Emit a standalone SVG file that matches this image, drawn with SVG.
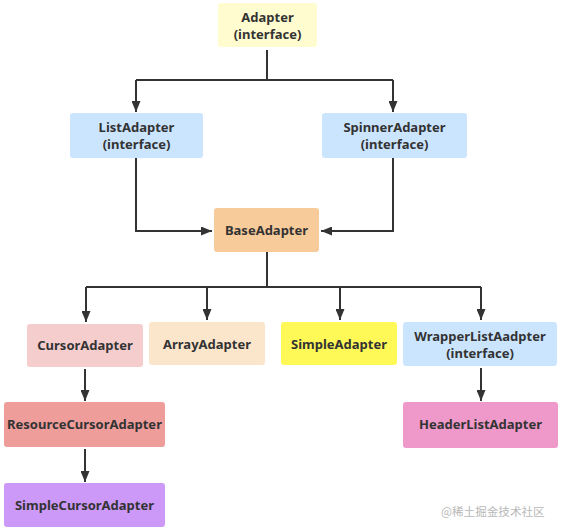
<svg xmlns="http://www.w3.org/2000/svg" width="561" height="532" viewBox="0 0 561 532">
<style>
.n rect{rx:3;ry:3}
.t{font-family:"Noto Sans","Open Sans",sans-serif;font-weight:bold;font-size:13px;fill:#333;text-anchor:middle}
.c{fill:none;stroke:#333;stroke-width:2}
.w{font-family:"Noto Sans CJK SC",sans-serif;font-size:11.6px;fill:#b8b8b8}
</style>
<defs>
<marker id="a" viewBox="0 0 10 10" refX="10" refY="5" markerWidth="5.5" markerHeight="4.5" orient="auto" markerUnits="strokeWidth" preserveAspectRatio="none">
<path d="M0,0 L10,5 L0,10 z" fill="#333"/>
</marker>
</defs>
<rect width="561" height="532" fill="#fff"/>
<g id="connectors">
<path class="c" d="M267,50 V80"/>
<path class="c" d="M136,80 H393"/>
<path class="c" d="M136,80 V112" marker-end="url(#a)"/>
<path class="c" d="M393,80 V112" marker-end="url(#a)"/>
<path class="c" d="M136,158 V231 H212" marker-end="url(#a)"/>
<path class="c" d="M393,158 V231 H321" marker-end="url(#a)"/>
<path class="c" d="M267,252 V287"/>
<path class="c" d="M86,287 H481"/>
<path class="c" d="M86,287 V322" marker-end="url(#a)"/>
<path class="c" d="M207,287 V320" marker-end="url(#a)"/>
<path class="c" d="M340,287 V320" marker-end="url(#a)"/>
<path class="c" d="M481,287 V320" marker-end="url(#a)"/>
<path class="c" d="M85,369 V401" marker-end="url(#a)"/>
<path class="c" d="M85,449 V482" marker-end="url(#a)"/>
<path class="c" d="M481,368 V401" marker-end="url(#a)"/>
</g>
<g id="adapter" class="n"><rect x="218" y="3" width="99" height="44" fill="#fffdcf"/><text class="t" x="267.5" y="22">Adapter</text><text class="t" x="267.5" y="39">(interface)</text></g>
<g id="listadapter" class="n"><rect x="70" y="113" width="133" height="45" fill="#cce5ff"/><text class="t" x="136.5" y="132">ListAdapter</text><text class="t" x="136.5" y="149">(interface)</text></g>
<g id="spinneradapter" class="n"><rect x="322" y="113" width="145" height="45" fill="#cce5ff"/><text class="t" x="394.5" y="132">SpinnerAdapter</text><text class="t" x="394.5" y="149">(interface)</text></g>
<g id="baseadapter" class="n"><rect x="214" y="208" width="105" height="44" fill="#f8cb9a"/><text class="t" x="266.5" y="235">BaseAdapter</text></g>
<g id="cursoradapter" class="n"><rect x="27" y="324" width="116" height="43" fill="#f6cdcd"/><text class="t" x="85" y="350">CursorAdapter</text></g>
<g id="arrayadapter" class="n"><rect x="149" y="322" width="116" height="43" fill="#fbe6cb"/><text class="t" x="207" y="349">ArrayAdapter</text></g>
<g id="simpleadapter" class="n"><rect x="281" y="322" width="116" height="43" fill="#fff958"/><text class="t" x="339" y="349">SimpleAdapter</text></g>
<g id="wrapperlistaadpter" class="n"><rect x="403" y="322" width="154" height="44" fill="#cce5ff"/><text class="t" x="480" y="341">WrapperListAadpter</text><text class="t" x="480" y="358">(interface)</text></g>
<g id="resourcecursoradapter" class="n"><rect x="4" y="402" width="161" height="45" fill="#ee9d9b" rx="0" ry="0"/><text class="t" x="84.5" y="429">ResourceCursorAdapter</text></g>
<g id="simplecursoradapter" class="n"><rect x="4" y="483" width="161" height="44" fill="#cc99f8" rx="0" ry="0"/><text class="t" x="84.5" y="510">SimpleCursorAdapter</text></g>
<g id="headerlistadapter" class="n"><rect x="403" y="402" width="155" height="46" fill="#ee99c9"/><text class="t" x="480.5" y="429">HeaderListAdapter</text></g>
<text class="w" x="441" y="516">@稀土掘金技术社区</text>
</svg>
